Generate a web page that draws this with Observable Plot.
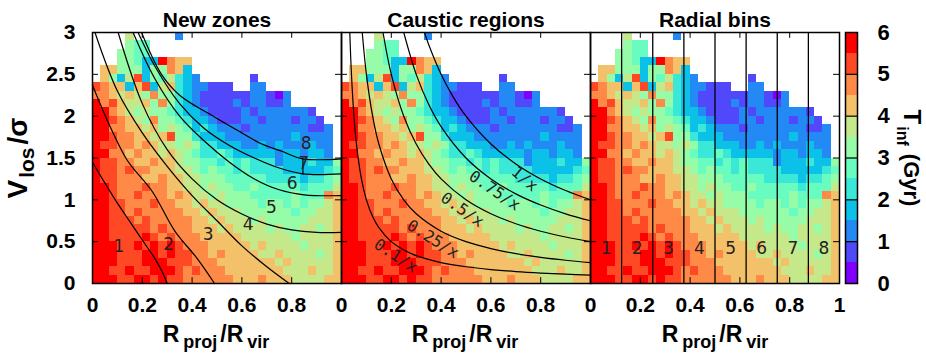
<!DOCTYPE html>
<html><head><meta charset="utf-8">
<script src="https://cdn.jsdelivr.net/npm/d3@7"></script>
<script src="https://cdn.jsdelivr.net/npm/@observablehq/plot@0.6"></script>
<style>
html,body{margin:0;padding:0;background:#fff;}
#chart{position:relative;width:926px;height:361px;overflow:hidden;background:#fff;}
#chart svg{position:absolute;left:0;top:0;}
</style></head><body><div id="chart"></div>
<script>
// ---------- data ----------
const panels = ["New zones", "Caustic regions", "Radial bins"];

// colour classes of T_inf (Gyr): 0-0.5, 0.5-1, ... 5.5-6
const tBreaks = [0.5, 1, 1.5, 2, 2.5, 3, 3.5, 4, 4.5, 5, 5.5];
const tColors = ["#8000ff","#5148fc","#238af5","#0cc1e8","#3ae8d7","#68fcc1",
                 "#97fca7","#c5e88a","#f3c16a","#ff8a48","#ff4824","#ff0000"];
const classCodes = "0123456789ab";   // code -> class index
const classMid = [0.25,0.75,1.25,1.75,2.25,2.75,3.25,3.75,4.25,4.75,5.25,5.75];

// heat map: 30 columns (R/Rvir, width 1/30) x 30 rows (V/sigma, height 0.1), top row first
const gridCols = 30, gridRows = 30, colWidth = 1 / 30, rowHeight = 0.1;
const gridRowsTopDown = [
  "....7 ..... 2.... ..... ..... .....",
  "....6 55... ..... ..... ..... .....",
  "...66 55... ..... ..... ..... .....",
  "...66 533b9 88... ..... ..... .....",
  ".8866 63669 83... ..... ..... .....",
  ".8637 a3657 432.. ....1 ..... .....",
  "a9883 8a378 43221 11..2 2.... .....",
  "99878 76966 43211 11112 2102. .....",
  "b9a87 78696 43211 11212 2112. .....",
  "bb987 67665 43321 11121 22222 21...",
  "bba98 76966 54332 11122 12221 221..",
  "bb998 87867 65343 22212 22222 2112.",
  "bba99 8878a 66433 32222 22223 2222.",
  "baa99 89877 67644 33322 32322 2322.",
  "bb998 98878 76544 54333 33233 2332.",
  "baa99 88988 76655 45454 44233 34336",
  "baa9a 99888 77656 55454 44433 33345",
  "baa99 98898 87766 65555 54444 34456",
  "bba99 9a998 87767 66556 55555 45557",
  "bba99 a9998 98776 76665 55556 55598",
  "bbaa9 99a99 88787 76666 56656 56678",
  "bbaa9 a9999 98878 77766 66665 66778",
  "bbaaa 9a999 99887 87776 76666 67778",
  "bbaaa aa9a9 99888 78777 76766 77678",
  "bbaaa aba9a 99988 88877 77776 77778",
  "bbbaa babab a9998 88887 87777 67778",
  "bbbaa abbab aa998 98888 77877 77678",
  "bbbaa abbba aa999 88888 88787 77778",
  "bbaab aabbb a9a99 98888 88877 78778",
  "bbbaa bbaba a9999 99888 98887 77788"
];

// "New zones" boundary curves [R/Rvir, V/sigma]
const zoneLine1 = [[0,1.45],[0.05,1.2],[0.1,0.96],[0.15,0.74],[0.2,0.52],[0.25,0.3],[0.28,0.14],[0.3,0]];
const zoneLine2 = [[0,2.37],[0.07,1.88],[0.14,1.47],[0.24,1.1],[0.33,0.63],[0.42,0.3],[0.49,0]];
const zoneLine3 = [[0.01,3],[0.1,2.3],[0.2,1.8],[0.3,1.4],[0.4,1.05],[0.5,0.75],[0.6,0.45],[0.7,0.2],[0.79,0]];
const zoneLine4 = [[0.103,3],[0.2,2.15],[0.3,1.6],[0.4,1.25],[0.5,1.0],[0.6,0.83],[0.7,0.71],[0.8,0.64],[0.9,0.61],[1,0.61]];
const zoneLine5 = [[0.163,3],[0.25,2.45],[0.35,2.0],[0.45,1.7],[0.55,1.45],[0.65,1.25],[0.75,1.12],[0.85,1.06],[1,1.05]];
const zoneLine6 = [[0.183,3],[0.25,2.6],[0.35,2.15],[0.45,1.85],[0.55,1.65],[0.65,1.5],[0.75,1.38],[0.845,1.31],[1,1.31]];
const zoneLine7 = [[0.197,3],[0.277,2.5],[0.35,2.25],[0.49,1.99],[0.6,1.8],[0.678,1.67],[0.76,1.58],[0.845,1.49],[1,1.49]];
const zoneStep = [[0.845,1.31],[0.845,1.49]];
const zoneLabels = ["1","2","3","4","5","6","7","8"];
const zoneLabelX = [0.106,0.306,0.464,0.625,0.718,0.802,0.848,0.858];
const zoneLabelY = [0.44,0.46,0.58,0.70,0.91,1.19,1.43,1.67];

// caustic curves V/sigma = a / (R/Rvir)
const causticA01 = [[0.0333,3],[0.04,2.5],[0.05,2],[0.06,1.667],[0.08,1.25],[0.1,1],[0.125,0.8],[0.15,0.667],[0.2,0.5],[0.25,0.4],[0.3,0.333],[0.4,0.25],[0.5,0.2],[0.6,0.167],[0.7,0.143],[0.8,0.125],[0.9,0.111],[1,0.1]];
const causticA025 = [[0.0833,3],[0.1,2.5],[0.125,2],[0.15,1.667],[0.2,1.25],[0.25,1],[0.3,0.833],[0.4,0.625],[0.5,0.5],[0.6,0.417],[0.7,0.357],[0.8,0.3125],[0.9,0.278],[1,0.25]];
const causticA05 = [[0.1667,3],[0.2,2.5],[0.25,2],[0.3,1.667],[0.35,1.429],[0.4,1.25],[0.5,1],[0.6,0.833],[0.7,0.714],[0.8,0.625],[0.9,0.556],[1,0.5]];
const causticA075 = [[0.25,3],[0.3,2.5],[0.35,2.143],[0.4,1.875],[0.5,1.5],[0.6,1.25],[0.7,1.071],[0.8,0.9375],[0.9,0.833],[1,0.75]];
const causticA1 = [[0.3333,3],[0.35,2.857],[0.4,2.5],[0.45,2.222],[0.5,2],[0.6,1.667],[0.7,1.429],[0.8,1.25],[0.9,1.111],[1,1]];
const causticLabels = ["0.1/x","0.25/x","0.5/x","0.75/x","1/x"];
const causticLabelX = [0.218,0.367,0.485,0.615,0.735];
const causticLabelY = [0.33,0.53,0.88,1.11,1.25];
const causticLabelAngle = [33,32,35,34,40];

// radial bins
const binEdges = [0.125,0.25,0.375,0.5,0.625,0.75,0.875];
const binLabels = ["1","2","3","4","5","6","7","8"];
const binCentres = [0.0625,0.1875,0.3125,0.4375,0.5625,0.6875,0.8125,0.9375];
const binLabelY = 0.42;

// ticks
const xTicksInner = [0, 0.2, 0.4, 0.6, 0.8];
const xTicksLast = [0, 0.2, 0.4, 0.6, 0.8, 1];
const xTickMarks = [0.2, 0.4, 0.6, 0.8];
const yTicks = [0, 0.5, 1, 1.5, 2, 2.5, 3];
const cbarTicks = [0, 1, 2, 3, 4, 5, 6];

// ---------- build tables ----------
const cells = [];
gridRowsTopDown.forEach((s, i) => {
  const r = gridRows - 1 - i;
  const str = s.replace(/ /g, "");
  for (let c = 0; c < gridCols; c++) {
    const ch = str[c];
    if (!ch || ch === ".") continue;
    cells.push({x1: c * colWidth, x2: (c + 1) * colWidth, y1: r * rowHeight, y2: (r + 1) * rowHeight,
                T: classMid[classCodes.indexOf(ch)]});
  }
});
const toPts = (lines) => lines.flatMap((pts, i) => pts.map(([x, y]) => ({x, y, z: i})));
const zonePts = toPts([zoneLine1, zoneLine2, zoneLine3, zoneLine4, zoneLine5, zoneLine6, zoneLine7]);
const causticPts = toPts([causticA01, causticA025, causticA05, causticA075, causticA1]);
const zoneLab = zoneLabels.map((t, i) => ({t, x: zoneLabelX[i], y: zoneLabelY[i]}));
const caustLab = causticLabels.map((t, i) => ({t, x: causticLabelX[i], y: causticLabelY[i], a: causticLabelAngle[i]}));
const binLab = binLabels.map((t, i) => ({t, x: binCentres[i], y: binLabelY}));
const xTickLab = panels.flatMap((p, i) => (i === 2 ? xTicksLast : xTicksInner).map(v => ({p, v})));

const bold = "Liberation Sans, Arial, Helvetica, sans-serif";
const P1 = () => panels[0], P2 = () => panels[1], P3 = () => panels[2];

const colorScale = {type: "threshold", domain: tBreaks, range: tColors};

const main = Plot.plot({
  width: 926, height: 361,
  marginLeft: 91, marginRight: 86, marginTop: 32, marginBottom: 78,
  x: {domain: [0, 1], axis: null},
  y: {domain: [0, 3], axis: null},
  fx: {domain: panels, padding: 0, axis: null},
  color: colorScale,
  style: {background: "white", fontFamily: bold, overflow: "visible"},
  marks: [
    Plot.rect(cells, {x1: "x1", x2: "x2", y1: "y1", y2: "y2", fill: "T", shapeRendering: "crispEdges"}),
    Plot.line(zonePts, {x: "x", y: "y", z: "z", fx: P1, stroke: "black", strokeWidth: 1.2, curve: "catmull-rom"}),
    Plot.line(zoneStep, {x: d => d[0], y: d => d[1], fx: P1, stroke: "black", strokeWidth: 1.2}),
    Plot.line(causticPts, {x: "x", y: "y", z: "z", fx: P2, stroke: "black", strokeWidth: 1.2, curve: "catmull-rom"}),
    Plot.ruleX(binEdges, {x: d => d, fx: P3, y1: 0, y2: 3, stroke: "black", strokeWidth: 1.3}),
    // tick marks on all four sides
    Plot.ruleX(xTickMarks, {x: d => d, y1: 0, y2: 0.07, stroke: "black"}),
    Plot.ruleX(xTickMarks, {x: d => d, y1: 2.93, y2: 3, stroke: "black"}),
    Plot.ruleY(yTicks, {y: d => d, x1: 0, x2: 0.024, stroke: "black"}),
    Plot.ruleY(yTicks, {y: d => d, x1: 0.976, x2: 1, stroke: "black"}),
    Plot.frame({stroke: "black", strokeWidth: 1.5}),
    // in-panel labels
    Plot.text(zoneLab, {x: "x", y: "y", text: "t", fx: P1, fontSize: 17, fill: "#222", fontFamily: "DejaVu Sans, sans-serif"}),
    Plot.text(binLab, {x: "x", y: "y", text: "t", fx: P3, fontSize: 17, fill: "#222", fontFamily: "DejaVu Sans, sans-serif"}),
    Plot.text(caustLab, {x: "x", y: "y", text: "t", rotate: "a", fx: P2, fontSize: 16, fill: "#222", fontFamily: "DejaVu Sans Mono, Liberation Mono, monospace"}),
    // titles
    Plot.text(panels, {fx: d => d, x: 0.5, y: 3, dy: -12, text: d => d, fontSize: 21, fontWeight: "bold", fill: "black"}),
    // tick labels
    Plot.text(xTickLab, {fx: "p", x: "v", y: 0, dy: 22, text: d => String(d.v), fontSize: 21, fontWeight: "bold", fill: "black"}),
    Plot.text(yTicks, {fx: P1, x: 0, y: d => d, dx: -17, textAnchor: "end", text: d => String(d), fontSize: 21, fontWeight: "bold", fill: "black"})
  ]
});

// colour bar
const cbarEdges = [0, ...tBreaks, 6];
const cbarCells = cbarEdges.slice(0, -1).map((lo, i) => ({lo, hi: cbarEdges[i + 1], mid: classMid[i]}));
const cbar = Plot.plot({
  width: 926, height: 361,
  marginLeft: 845, marginRight: 69, marginTop: 32, marginBottom: 78,
  x: {domain: [0, 1], axis: null},
  y: {domain: [0, 6], axis: null},
  color: colorScale,
  style: {background: "transparent", fontFamily: bold, overflow: "visible"},
  marks: [
    Plot.rect(cbarCells, {x1: 0, x2: 1, y1: "lo", y2: "hi", fill: "mid", shapeRendering: "crispEdges"}),
    Plot.ruleY(cbarTicks.slice(1, -1), {y: d => d, stroke: "black", strokeWidth: 1.2}),
    Plot.frame({stroke: "black", strokeWidth: 1.5}),
    Plot.text(cbarTicks, {x: 1, y: d => d, dx: 26, text: d => String(d), fontSize: 22, fontWeight: "bold", fill: "black"})
  ]
});

const chart = document.getElementById("chart");
chart.appendChild(main);
chart.appendChild(cbar);

// axis titles with subscripts
function richText(svgNode, x, y, rotate, parts) {
  const t = d3.select(svgNode).append("text")
    .attr("transform", `translate(${x},${y}) rotate(${rotate})`)
    .attr("text-anchor", "middle")
    .attr("font-family", bold)
    .attr("font-weight", "bold")
    .attr("fill", "black");
  let shift = 0;
  for (const p of parts) {
    const target = p.sub ? p.sub : 0;
    t.append("tspan").text(p.text).attr("font-size", p.size)
      .attr("dy", target - shift).attr("dx", p.dx || 0);
    shift = target;
  }
}
richText(main, 27, 158, -90, [
  {text: "V", size: 28}, {text: "los", size: 21, sub: 7, dx: 2}, {text: "/σ", size: 28, dx: 3}
]);
const xLabelCentres = [216, 465, 715];
for (const cx of xLabelCentres) {
  richText(main, cx, 342, 0, [
    {text: "R", size: 23}, {text: "proj", size: 18, sub: 6, dx: 4}, {text: "/R", size: 23, dx: 3}, {text: "vir", size: 18, sub: 6, dx: 4}
  ]);
}
richText(cbar, 904, 158, 90, [
  {text: "T", size: 24}, {text: "inf", size: 16, sub: 7, dx: 2}, {text: "(Gyr)", size: 22, dx: 8}
]);
</script></body></html>
